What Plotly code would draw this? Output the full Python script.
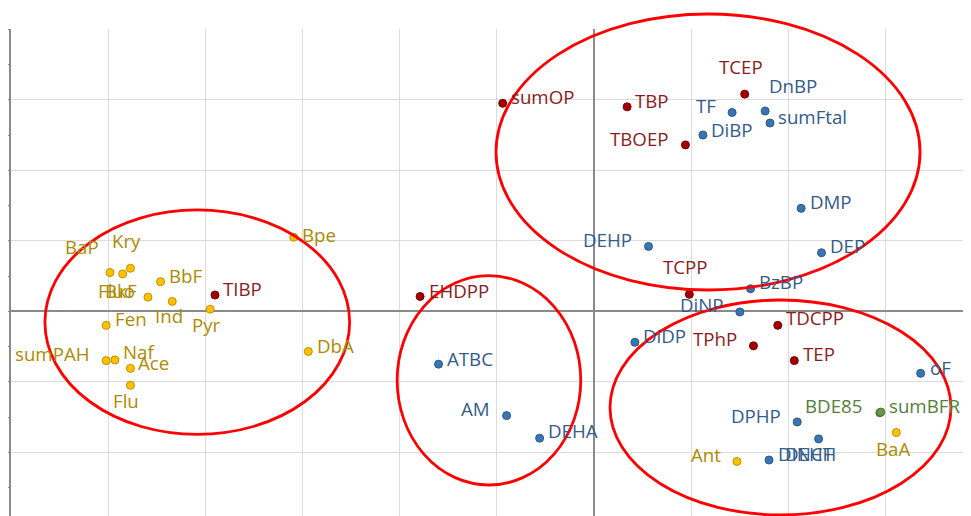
import plotly.graph_objects as go

# ---------------- data (loadings) ----------------
pah_names = ["BaP", "Fluo", "Kry", "BbF", "BkF", "Ind", "Pyr", "Fen", "sumPAH",
             "Naf", "Ace", "Flu", "Bpe", "DbA", "Ant", "BaA"]
pah_x = [-0.498, -0.485, -0.477, -0.446, -0.459, -0.434, -0.395, -0.502, -0.502,
         -0.493, -0.477, -0.477, -0.309, -0.294, 0.147, 0.311]
pah_y = [0.055, 0.053, 0.061, 0.042, 0.020, 0.014, 0.003, -0.020, -0.070,
         -0.069, -0.081, -0.105, 0.105, -0.057, -0.213, -0.172]

op_names = ["TIBP", "EHDPP", "sumOP", "TBP", "TCEP", "TBOEP", "TCPP", "TPhP", "TDCPP", "TEP"]
op_x = [-0.390, -0.179, -0.094, 0.034, 0.155, 0.094, 0.098, 0.164, 0.189, 0.206]
op_y = [0.023, 0.021, 0.295, 0.290, 0.308, 0.236, 0.024, -0.049, -0.020, -0.070]

pl_names = ["TF", "DnBP", "sumFtal", "DiBP", "DMP", "DEHP", "DEP", "BzBP", "DiNP", "DiDP",
            "DPHP", "DINCH", "DEHT", "oF", "ATBC", "AM", "DEHA"]
pl_x = [0.142, 0.176, 0.181, 0.112, 0.213, 0.056, 0.234, 0.161, 0.150, 0.042,
        0.209, 0.180, 0.231, 0.336, -0.160, -0.090, -0.056]
pl_y = [0.282, 0.284, 0.267, 0.250, 0.146, 0.092, 0.083, 0.032, -0.001, -0.044,
        -0.157, -0.211, -0.181, -0.088, -0.075, -0.148, -0.180]

bfr_names = ["BDE85", "sumBFR"]
bfr_x = [0.294, 0.295]
bfr_y = [-0.144, -0.143]

# ---------------- styling ----------------
XR = [-0.5999, 0.3878]
YR = [-0.2904, 0.4004]
FONT = "Open Sans"
FS = 18.7

groups = [
    (pah_names, pah_x, pah_y, "#FFC000", "#BF9000", "#AD8B00"),
    (op_names, op_x, op_y, "#A00000", "#7A0000", "#8B1C1C"),
    (pl_names, pl_x, pl_y, "#3A75B2", "#25598F", "#335B8C"),
    (bfr_names, bfr_x, bfr_y, "#689A45", "#4B7630", "#54803A"),
]

# label placement: anchor, dx, dy (pixels, dy downward)
R = ("l", 7.3, -6.7)
label_pos = {
    "BaP": ("c", -28, -25.6), "Fluo": ("c", -6, 16.7), "Kry": ("c", -4, -28),
    "BbF": ("l", 7, -6), "BkF": ("c", -27.3, -6.3), "Ind": ("c", -3.5, 14),
    "Pyr": ("c", -3.3, 15.5), "Fen": ("l", 7.4, -6.4), "sumPAH": ("r", -14.7, -6.7),
    "Naf": ("l", 7.4, -8), "Ace": ("l", 6.7, -6), "Flu": ("c", -4, 15),
    "Bpe": ("l", 7.3, -3), "DbA": ("l", 7.3, -5.7), "Ant": ("r", -14.6, -7.3),
    "BaA": ("c", -3.6, 16),
    "TIBP": ("l", 7.3, -7), "EHDPP": ("l", 7.4, -6), "sumOP": ("l", 7.6, -6.6),
    "TBP": R, "TCEP": ("c", -3.7, -28), "TBOEP": ("r", -15.7, -6.4),
    "TCPP": ("c", -3.5, -27.6), "TPhP": ("r", -15.3, -7.4), "TDCPP": ("l", 7.3, -7.4),
    "TEP": ("l", 7.4, -7.4),
    "TF": ("r", -14.7, -7.3), "DnBP": ("c", 28.3, -26), "sumFtal": ("l", 6.7, -6.3),
    "DiBP": ("l", 7.3, -5.3), "DMP": ("l", 8, -6.6), "DEHP": ("r", -15.3, -6.7),
    "DEP": ("l", 7.6, -7.7), "BzBP": ("l", 7.7, -7.3), "DiNP": ("r", -15, -7.3),
    "DiDP": ("l", 7.4, -6.3), "DPHP": ("r", -15.3, -6.7), "DINCH": ("l", 8.4, -6.7),
    "DEHT": ("c", -9, 15), "oF": ("l", 8, -5.7), "ATBC": ("l", 7.3, -5.7),
    "AM": ("r", -15.3, -7), "DEHA": ("l", 7.4, -7.6),
    "BDE85": ("r", -16.4, -7), "sumBFR": ("l", 7, -7),
}
anchor_map = {"l": "left", "r": "right", "c": "center"}

# group ellipses (data units): x0, x1, y0, y1
ellipses = [
    (-0.565, -0.2515, -0.1746, 0.1437),
    (-0.2026, -0.0137, -0.2464, 0.0505),
    (-0.1009, 0.3354, 0.0302, 0.4217),
    (0.0164, 0.3672, -0.2889, 0.016),
]

fig = go.Figure()
annotations = []
for names, xs, ys, fill, edge, tcol in groups:
    fig.add_trace(go.Scatter(
        x=xs, y=ys, mode="markers", text=names, cliponaxis=False,
        marker=dict(size=8, color=fill, line=dict(color=edge, width=1)),
        hoverinfo="text", showlegend=False))
    for n, x, y in zip(names, xs, ys):
        a, dx, dy = label_pos.get(n, R)
        annotations.append(dict(
            x=x, y=y, xref="x", yref="y", text=n, showarrow=False,
            xanchor=anchor_map[a], yanchor="middle", xshift=dx, yshift=-dy,
            borderpad=0, font=dict(family=FONT, size=FS, color=tcol)))

def px(v):
    return (v - XR[0]) / (XR[1] - XR[0])

def py(v):
    return (v - YR[0]) / (YR[1] - YR[0])

shapes = []
for x0, x1, y0, y1 in ellipses:
    shapes.append(dict(type="circle", xref="paper", yref="paper",
                       x0=px(x0), x1=px(x1), y0=py(y0), y1=py(y1),
                       line=dict(color="#FF0000", width=2.8), layer="above"))

# page body adds an 8px margin, so the figure is sized to fill the rest of the window
fig.update_layout(
    width=963, height=508,
    margin=dict(l=1, r=0, t=21, b=0, pad=0),
    paper_bgcolor="white", plot_bgcolor="white",
    annotations=annotations, shapes=shapes,
    font=dict(family=FONT, size=FS),
    xaxis=dict(range=XR, dtick=0.1, tick0=0, showticklabels=False, ticks="",
               showgrid=True, gridcolor="#dcdcdc", gridwidth=1.2,
               zeroline=True, zerolinecolor="#8a8a8a", zerolinewidth=1.7,
               showline=False, fixedrange=True),
    yaxis=dict(range=YR, dtick=0.1, tick0=0, showticklabels=False,
               ticks="outside", ticklen=3, tickcolor="#8a8a8a", tickwidth=1,
               minor=dict(dtick=0.05, ticks="outside", ticklen=3, tickcolor="#8a8a8a", showgrid=False),
               showgrid=True, gridcolor="#dcdcdc", gridwidth=1.2,
               zeroline=True, zerolinecolor="#8a8a8a", zerolinewidth=1.7,
               showline=True, linecolor="#8a8a8a", linewidth=2, fixedrange=True),
)

fig.write_html("out.html")
